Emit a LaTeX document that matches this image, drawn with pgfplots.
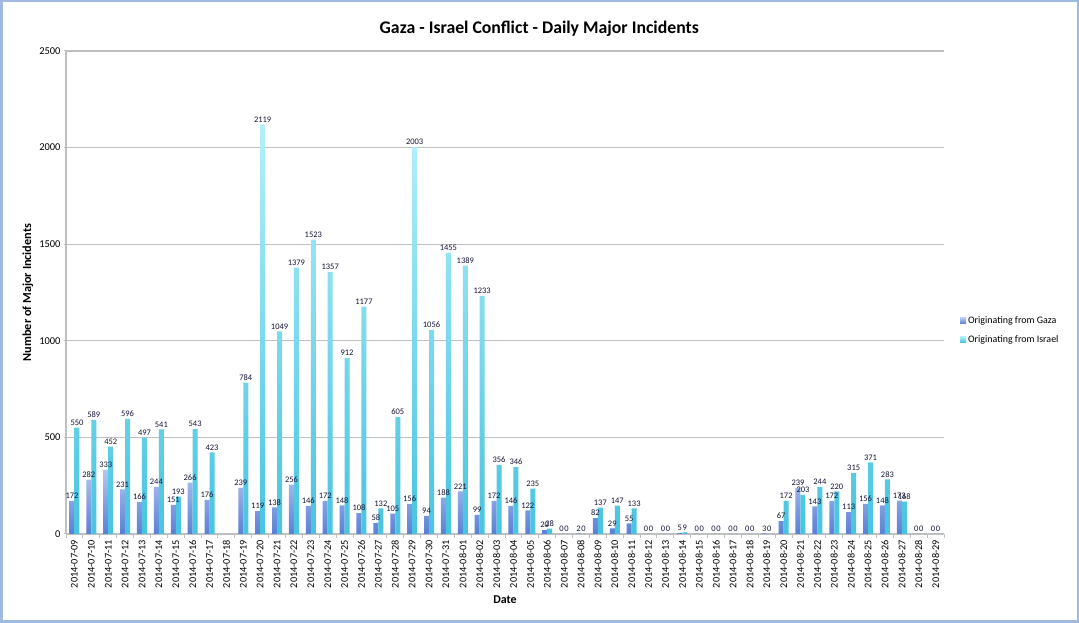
\documentclass[border=0pt]{standalone}
\usepackage{pgfplots}
\pgfplotsset{compat=1.18}
\usepackage{pgfplotstable}
\usepackage{fontspec}
\setmainfont{Carlito}
\definecolor{gazaTop}{RGB}{178,198,242}
\definecolor{gazaBot}{RGB}{88,128,212}
\definecolor{isrTop}{RGB}{180,240,252}
\definecolor{isrBot}{RGB}{72,196,224}
\definecolor{gridgray}{RGB}{192,192,192}
\definecolor{frameblue}{RGB}{160,185,222}
\definecolor{lbl}{RGB}{20,20,55}
\pgfkeys{/pgf/number format/1000 sep={}}

\pgfplotstableread{
x gaza israel
0 172 550
1 282 589
2 333 452
3 231 596
4 166 497
5 244 541
6 151 193
7 266 543
8 176 423
10 239 784
11 119 2119
12 138 1049
13 256 1379
14 146 1523
15 172 1357
16 148 912
17 108 1177
18 58 132
19 105 605
20 156 2003
21 94 1056
22 188 1455
23 221 1389
24 99 1233
25 172 356
26 146 346
27 122 235
28 20 28
29 0 0
30 2 0
31 82 137
32 29 147
33 55 133
34 0 0
35 0 0
36 5 9
37 0 0
38 0 0
39 0 0
40 0 0
41 3 0
42 67 172
43 239 203
44 143 244
45 172 220
46 113 315
47 156 371
48 148 283
49 173 168
50 0 0
51 0 0
}\incidents

\begin{document}
\begin{tikzpicture}[x=1bp,y=1bp]
\fill[white] (0,0) rectangle (1079,623);
\draw[frameblue, line width=2.5bp] (1.25,1.25) rectangle (1077.75,621.75);
\path[use as bounding box] (0,0) rectangle (1079,623);
\begin{axis}[
  at={(66bp,89bp)}, anchor=south west,
  width=878bp, height=483bp, scale only axis,
  xmin=-0.5, xmax=51.5, ymin=0, ymax=2500,
  ytick={0,500,...,2500},
  xtick={0,...,51},
  xticklabels={2014-07-09,2014-07-10,2014-07-11,2014-07-12,2014-07-13,2014-07-14,2014-07-15,2014-07-16,2014-07-17,2014-07-18,2014-07-19,2014-07-20,2014-07-21,2014-07-22,2014-07-23,2014-07-24,2014-07-25,2014-07-26,2014-07-27,2014-07-28,2014-07-29,2014-07-30,2014-07-31,2014-08-01,2014-08-02,2014-08-03,2014-08-04,2014-08-05,2014-08-06,2014-08-07,2014-08-08,2014-08-09,2014-08-10,2014-08-11,2014-08-12,2014-08-13,2014-08-14,2014-08-15,2014-08-16,2014-08-17,2014-08-18,2014-08-19,2014-08-20,2014-08-21,2014-08-22,2014-08-23,2014-08-24,2014-08-25,2014-08-26,2014-08-27,2014-08-28,2014-08-29},
  minor xtick={-0.5,0.5,...,51.5},
  x tick style={draw=none},
  minor x tick style={draw=gridgray, line width=1bp},
  minor tick length=4bp,
  y tick style={draw=gridgray, line width=1bp},
  major tick length=4bp,
  tick align=outside,
  axis x line=bottom, axis y line=left,
  axis line style={-, draw=gridgray, line width=1.5bp},
  ymajorgrids, grid style={draw=gridgray, line width=1.3bp},
  /pgf/number format/assume math mode=true,
  x tick label style={rotate=90, anchor=east, font=\fontsize{10.3}{10.3}\selectfont, inner sep=2bp},
  y tick label style={font=\fontsize{10.5}{10.5}\selectfont},
  title={\textbf{Gaza - Israel Conflict - Daily Major Incidents}},
  title style={at={(axis description cs:0.539,1.0497)}, anchor=center, yshift=-8bp, font=\fontsize{17.8}{17.8}\selectfont},
  xlabel={\textbf{Date}},
  xlabel style={at={(axis description cs:0.5,-0.137)}, anchor=center, font=\fontsize{12}{12}\selectfont},
  ylabel={\textbf{Number of Major Incidents}},
  ylabel style={at={(axis description cs:-0.0433,0.5)}, anchor=center, rotate=0, font=\fontsize{12.3}{12.3}\selectfont},
  ybar=0pt, bar width=5bp,
  nodes near coords,
  every node near coord/.append style={font=\fontsize{8.5}{9}\selectfont, text=lbl, inner sep=2bp},
  legend style={at={(axis description cs:1.018,0.422)}, anchor=west, draw=none, fill=none,
    font=\fontsize{10}{10}\selectfont, row sep=6bp, inner sep=0bp},
  legend cell align=left,
  legend image code/.code={\path[#1] (0bp,-3bp) rectangle (6bp,3bp);},
]
\addplot[draw=none, top color=gazaTop, bottom color=gazaBot] table[x=x, y=gaza] {\incidents};
\addlegendentry{Originating from Gaza}
\addplot[draw=none, top color=isrTop, bottom color=isrBot] table[x=x, y=israel] {\incidents};
\addlegendentry{Originating from Israel}
\end{axis}
\end{tikzpicture}
\end{document}
